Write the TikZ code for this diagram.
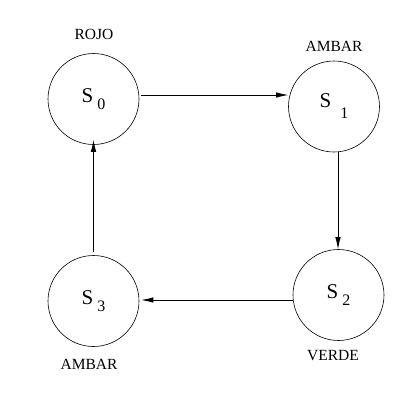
\documentclass[tikz,border=0pt]{standalone}
\usepackage{fontspec}
\setmainfont{Liberation Serif}
\usetikzlibrary{arrows.meta}
\begin{document}
\begin{tikzpicture}[x=1pt,y=-1pt,
  state/.style={circle,draw,line width=0.6pt,minimum size=91pt,inner sep=0pt},
  lab/.style={font=\fontsize{15.5}{16}\selectfont,inner sep=0pt},
  conn/.style={line width=0.8pt,-{Latex[length=12pt,width=5.5pt]}}]
\useasboundingbox (0,0) rectangle (404,408);
\newcommand{\stlabel}[3]{{\fontsize{21}{21}\selectfont S}\hspace{#2}\raisebox{#3}{\fontsize{16}{16}\selectfont #1}}
\node[state] (s0) at (93.5,99) {\stlabel{0}{4pt}{-7pt}};
\node[state] (s1) at (334,106.5) {\stlabel{1}{9pt}{-11pt}};
\node[state] (s2) at (338.5,295) {\stlabel{2}{4pt}{-7pt}};
\node[state] (s3) at (93.5,301) {\stlabel{3}{4pt}{-7pt}};
\node[lab] (l0) at (94,34) {ROJO};
\node[lab] (l1) at (334,46) {AMBAR};
\node[lab] (l2) at (333,356) {VERDE};
\node[lab] (l3) at (89,364) {AMBAR};
\draw[conn] (s0.east |- 0,95) ++(2,0) coordinate (a0) -- (a0 -| s1.west);
\draw[conn] (s1.south -| 338,0) coordinate (a1) -- (a1 |- s2.north);
\draw[conn] (s2.west |- 0,300) coordinate (a2) -- ([xshift=2pt]a2 -| s3.east);
\draw[conn] ([yshift=3pt]s3.north) -- ([yshift=5pt]s0.south);
\end{tikzpicture}
\end{document}
